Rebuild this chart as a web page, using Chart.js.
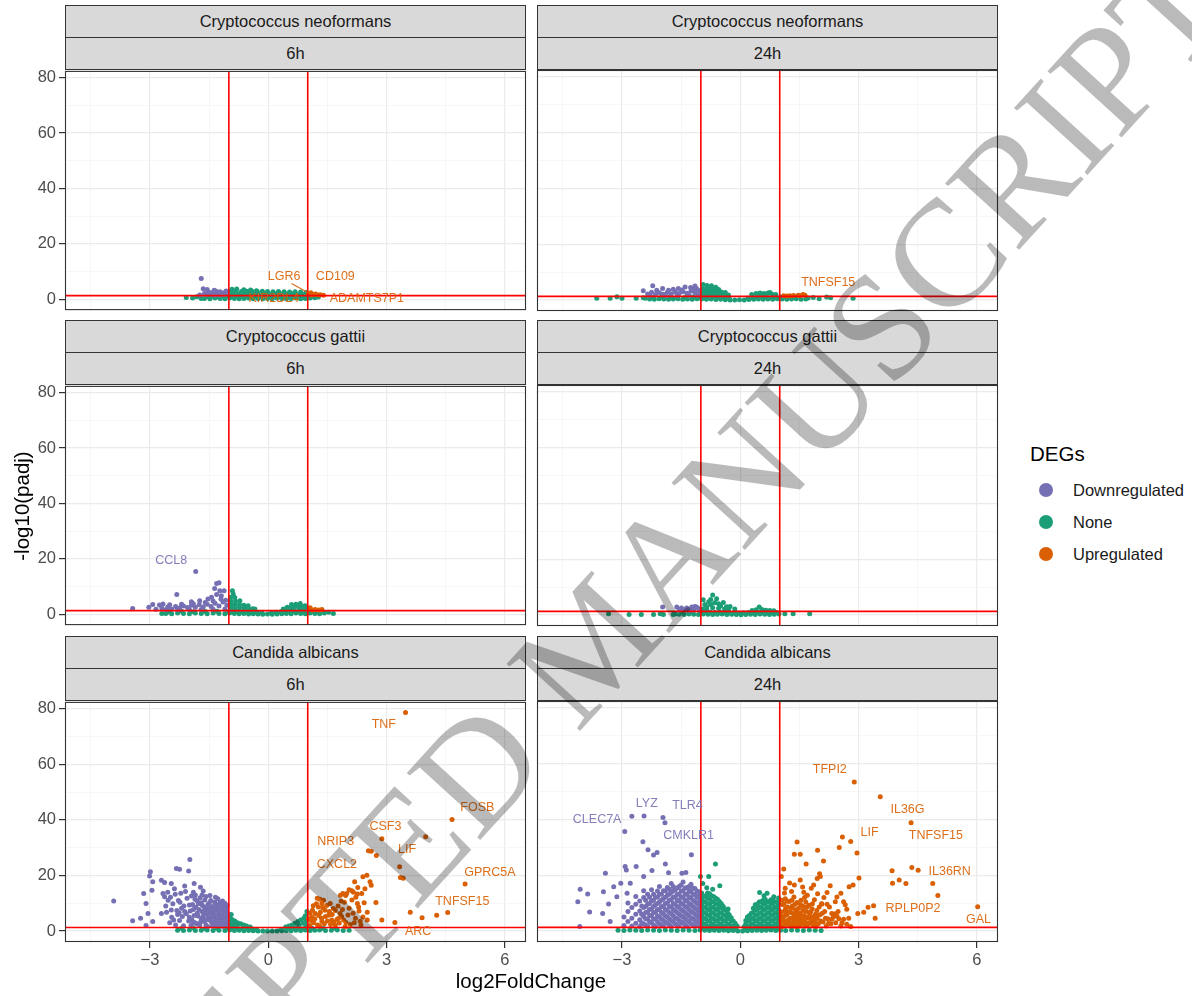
<!DOCTYPE html>
<html>
<head>
<meta charset="utf-8">
<title>DEG volcano plots</title>
<script src="https://cdn.jsdelivr.net/npm/chart.js@4.4.1/dist/chart.umd.min.js"></script>
<style>
  body { margin: 0; background: #fff; }
  #wrap { position: relative; width: 1192px; height: 996px; overflow: hidden; font-family: "Liberation Sans", Arial, sans-serif; }
  .strip { position: absolute; box-sizing: border-box; height: 33px; background: #D9D9D9; border: 1px solid #333; color: #1A1A1A; font-size: 16.5px; text-align: center; line-height: 31px; }
  canvas { position: absolute; }
  .title { position: absolute; color: #000; font-size: 20.5px; white-space: nowrap; line-height: 1; }
  .key { position: absolute; width: 14px; height: 14px; border-radius: 50%; }
  .keytxt { position: absolute; font-size: 16.5px; color: #1A1A1A; line-height: 1; }
  #mark { position: absolute; left: 592px; top: 642px; transform: translate(-50%, -50%) rotate(-47.6deg); font-family: "Liberation Serif", "DejaVu Serif", serif; font-size: 152px; color: rgba(0,0,0,0.27); white-space: nowrap; pointer-events: none; line-height: 1; }
</style>
</head>
<body>
<div id="wrap"></div>
<script>
// axes shared by every facet
const xTicks = [-4.5, -3, -1.5, 0, 1.5, 3, 4.5, 6];
const xLabelled = [-3, 0, 3, 6];
const yTicks = [0, 10, 20, 30, 40, 50, 60, 70, 80];
const yLabelled = [0, 20, 40, 60, 80];
const xRange = [-5.155, 6.535];
const yRange = [-3.93, 82.42];
const fcCut = [-1, 1];
const padjCut = 1.301;

const degNames = ['Downregulated', 'None', 'Upregulated'];
const degColors = ['#7570B3', '#1B9E77', '#D95F02'];
const species = ['Cryptococcus neoformans', 'Cryptococcus gattii', 'Candida albicans'];
const times = ['6h', '24h'];

// Cryptococcus neoformans 6h
const cn6Down = [[-1.70,7.5],[-1.65,3.8],[-1.55,3.5],[-1.37,3.2],[-1.74,1.5],[-1.62,2.1],[-1.52,2.6],[-1.46,1.8],[-1.41,2.5],[-1.32,2.9],[-1.27,2.0],[-1.22,2.7],[-1.18,1.7],[-1.12,2.3],[-1.07,3.0],[-1.04,1.9],[-1.57,1.6],[-1.36,1.5],[-1.24,1.5],[-1.14,1.6],[-1.30,2.4],[-1.48,2.2]];
const cn6None = [[-2.08,0.6],[-1.81,0.9],[-1.92,0.4],[-1.70,0.3],
  [-1.62,0.3],[-1.48,0.2],[-1.35,0.4],[-1.22,0.3],[-1.10,0.2],[-0.98,0.4],[-0.86,0.3],[-0.74,0.2],[-0.62,0.3],[-0.50,0.4],[-0.38,0.2],[-0.26,0.3],[-0.14,0.2],[-0.02,0.3],[0.10,0.2],[0.22,0.4],[0.34,0.3],[0.46,0.2],[0.58,0.3],[0.70,0.4],[0.82,0.2],[0.94,0.3],[1.06,0.4],[1.18,0.5],[1.27,0.8],
  [-1.55,1.0],[-1.42,1.1],[-1.28,1.0],[-1.15,1.2],[-1.02,1.1],[-0.90,1.0],[-0.78,1.2],[-0.66,1.1],[-0.54,1.0],[-0.42,1.2],[-0.30,1.1],[-0.18,1.0],[-0.06,1.2],[0.06,1.1],[0.18,1.0],[0.30,1.2],[0.42,1.1],[0.54,1.0],[0.66,1.2],[0.78,1.1],[0.90,1.0],[1.02,1.1],[1.12,1.0],
  [-0.98,2.0],[-0.86,2.1],[-0.74,1.9],[-0.62,2.0],[-0.50,2.1],[-0.38,1.9],[-0.26,2.0],[-0.14,2.1],[-0.02,1.9],[0.10,2.0],[0.22,2.1],[0.34,1.9],[0.46,2.0],[0.58,2.1],[0.70,1.9],[0.82,2.0],[0.94,2.1],
  [-0.95,2.9],[-0.82,3.0],[-0.68,2.8],[-0.55,2.9],[-0.42,3.0],[-0.28,2.8],[-0.15,2.9],[-0.02,2.8],[0.12,2.7],[0.26,2.8],[0.40,2.7],[0.54,2.6],[0.68,2.7],[0.82,2.6],[0.96,2.4],
  [-0.92,3.6],[-0.80,3.7],[-0.62,3.4],[-0.45,3.3],[-0.30,3.1]];
const cn6Up = [[1.02,2.0],[1.08,2.3],[1.15,1.7],[1.20,1.9],[1.27,1.5],[1.32,1.6],[1.10,1.5],[1.40,1.4]];
const cn6Labels = [['LGR6',0.40,8.2],['CD109',1.70,8.2],['KIR2DL4',0.14,0.3],['ADAMTS7P1',2.50,0.3]];
const cn6Links = [[0.59,5.7,1.06,2.0]];

// Cryptococcus neoformans 24h
const cn24Down = [[-2.46,3.3],[-2.22,5.1],[-2.12,3.5],[-1.97,4.1],[-1.82,3.5],[-1.70,3.9],[-1.57,4.1],[-1.40,4.7],[-1.26,4.5],[-1.15,5.0],[-1.11,4.1],[-2.35,2.2],[-2.25,2.8],[-2.15,2.0],[-2.05,2.6],[-1.95,2.1],[-1.85,2.8],[-1.75,2.2],[-1.65,2.9],[-1.55,2.3],[-1.45,3.0],[-1.35,2.4],[-1.25,3.2],[-1.15,2.6],[-1.05,3.4],[-1.90,1.6],[-1.60,1.6],[-1.30,1.7],[-1.08,1.8],[-2.30,1.6],[-1.48,3.6],[-1.20,3.8]];
const cn24None = [[-3.64,0.6],[-3.30,0.6],[-3.13,1.2],[-3.00,0.6],[-2.64,0.6],[-2.46,0.8],[-2.41,0.6],[1.85,0.9],[2.19,1.1],[2.29,0.8],[2.86,0.6],[2.00,0.5],[1.72,0.7],
  [-2.30,0.4],[-2.18,0.3],[-2.06,0.5],[-1.94,0.4],[-1.82,0.3],[-1.70,0.4],[-1.58,0.5],[-1.46,0.3],[-1.34,0.4],[-1.22,0.3],[-1.10,0.5],[-0.98,0.4],[-0.86,0.3],[-0.74,0.4],[-0.62,0.2],[-0.50,0.3],[-0.38,0.1],[-0.26,0.0],[-0.14,0.0],[-0.02,0.1],[0.10,0.0],[0.22,0.2],[0.34,0.3],[0.46,0.4],[0.58,0.3],[0.70,0.4],[0.82,0.3],[0.94,0.5],[1.06,0.4],[1.18,0.3],[1.30,0.4],[1.42,0.5],[1.54,0.3],[1.66,0.4],
  [-2.20,1.0],[-2.00,1.1],[-1.80,1.0],[-1.60,1.1],[-1.40,1.0],[-1.20,1.1],[-1.00,1.0],[-0.88,1.1],[-0.76,1.0],[-0.64,1.1],[-0.52,0.9],[-0.40,0.8],[-0.28,0.6],[0.20,0.6],[0.32,0.9],[0.44,1.0],[0.56,1.1],[0.68,1.0],[0.80,1.1],[0.92,1.0],[1.04,1.1],[1.16,1.0],[1.28,1.1],[1.40,1.0],
  [-0.98,2.0],[-0.90,2.0],[-0.80,2.0],[-0.70,2.0],[-0.60,2.0],[-0.50,2.0],[-0.40,1.9],[-0.98,3.0],[-0.88,3.0],[-0.78,3.0],[-0.68,3.0],[-0.58,3.0],[-0.48,2.9],[-0.38,2.7],[-0.95,4.0],[-0.85,4.1],[-0.75,4.0],[-0.65,3.9],[-0.55,3.8],[-0.94,5.6],[-0.84,5.2],[-0.73,5.1],[-0.62,4.6],[-0.30,1.8],
  [0.29,2.0],[0.40,2.3],[0.50,2.5],[0.60,2.3],[0.70,2.5],[0.80,2.2],[0.90,2.0],[0.75,2.7],[0.45,1.7],[0.65,1.7],[0.85,1.6]];
const cn24Up = [[1.26,1.5],[1.47,1.7],[1.59,2.0],[1.64,1.7],[1.35,1.6],[1.10,1.5],[1.52,1.5],[1.18,1.4]];
const cn24Labels = [['TNFSF15',2.23,6.4]];

// Cryptococcus gattii 6h
const cg6Down = [[-1.84,15.4],[-2.32,7.1],[-3.44,2.1],[-3.03,2.5],[-2.93,3.5],[-2.76,3.3],[-2.67,3.7],[-1.31,11.1],[-1.25,11.4],[-1.36,9.3],[-1.23,8.5],[-1.12,8.5],[-1.31,7.1],[-1.19,6.7],[-1.53,5.5],[-1.44,6.1],[-1.74,4.9],[-1.95,4.5],
  [-2.85,1.8],[-2.70,2.2],[-2.55,2.6],[-2.45,1.9],[-2.35,2.8],[-2.25,2.2],[-2.15,3.0],[-2.05,2.4],[-1.95,3.2],[-1.85,2.5],[-1.75,3.4],[-1.65,2.6],[-1.55,3.6],[-1.45,2.8],[-1.35,4.0],[-1.25,3.0],[-1.15,4.4],[-1.05,3.2],[-2.50,3.4],[-2.20,3.6],[-1.90,3.8],[-1.60,4.2],[-1.40,4.8],[-1.20,5.5],[-1.08,5.0],[-2.60,1.6],[-2.30,1.6],[-2.00,1.7],[-1.70,1.7],[-1.40,1.8],[-1.10,1.9]];
const cg6None = [[1.65,0.3],[1.53,0.7],[-2.70,0.3],[-2.55,0.8],
  [-2.60,0.3],[-2.45,0.2],[-2.30,0.4],[-2.15,0.3],[-2.00,0.2],[-1.85,0.4],[-1.70,0.3],[-1.55,0.2],[-1.40,0.4],[-1.25,0.3],[-1.10,0.2],[-0.98,0.4],[-0.86,0.3],[-0.74,0.2],[-0.62,0.3],[-0.50,0.1],[-0.38,0.2],[-0.26,0.1],[-0.14,0.0],[-0.02,0.1],[0.10,0.0],[0.22,0.1],[0.34,0.2],[0.46,0.3],[0.58,0.2],[0.70,0.4],[0.82,0.3],[0.94,0.2],[1.06,0.4],[1.18,0.3],[1.30,0.2],[1.42,0.4],
  [-2.50,1.0],[-2.20,1.1],[-1.90,0.9],[-1.60,1.0],[-1.30,1.1],[-1.00,1.0],[-0.88,1.1],[-0.76,1.0],[-0.64,0.9],[-0.52,1.0],[-0.40,0.8],[-0.28,0.6],[-0.16,0.5],[0.08,0.5],[0.20,0.7],[0.32,0.9],[0.44,1.0],[0.56,1.1],[0.68,1.0],[0.80,1.1],[0.92,1.0],[1.04,0.9],[1.16,1.0],[1.28,0.9],
  [-0.91,8.5],[-0.89,7.3],[-0.96,6.0],[-0.85,6.0],[-0.95,4.8],[-0.83,4.7],[-0.72,4.9],[-0.95,3.6],[-0.84,3.5],[-0.73,3.4],[-0.62,3.2],[-0.51,3.1],[-0.95,2.4],[-0.84,2.3],[-0.73,2.3],[-0.62,2.2],[-0.51,2.1],[-0.40,2.0],[-0.34,1.9],
  [0.38,1.9],[0.48,2.5],[0.59,3.5],[0.70,3.6],[0.81,3.9],[0.93,3.1],[0.55,2.2],[0.65,2.6],[0.75,2.8],[0.86,2.7],[0.96,2.2],[0.45,1.8],[0.62,1.8],[0.78,1.9],[0.90,1.8]];
const cg6Up = [[1.06,2.3],[1.19,1.7],[1.36,1.7],[1.12,1.5],[1.28,1.5]];
const cg6Labels = [['CCL8',-2.46,19.5]];

// Cryptococcus gattii 24h
const cg24Down = [[-1.97,2.9],[-1.61,2.9],[-1.49,2.5],[-1.36,2.5],[-1.23,2.9],[-1.15,3.1],[-1.11,2.9],[-1.55,1.8],[-1.42,1.9],[-1.30,2.0],[-1.18,2.1],[-1.06,2.3],[-1.26,1.6]];
const cg24None = [[-3.34,0.5],[-2.82,0.2],[-2.51,0.2],[-2.20,0.2],[-2.03,0.5],[-1.95,0.2],[-1.70,0.2],[-1.63,0.5],[1.13,0.5],[1.34,0.5],[1.76,0.5],
  [-1.55,0.3],[-1.42,0.2],[-1.30,0.4],[-1.18,0.3],[-1.06,0.2],[-0.94,0.4],[-0.82,0.3],[-0.70,0.2],[-0.58,0.3],[-0.46,0.4],[-0.34,0.2],[-0.22,0.3],[-0.10,0.2],[0.02,0.1],[0.14,0.2],[0.26,0.3],[0.38,0.2],[0.50,0.4],[0.62,0.3],[0.74,0.2],[0.86,0.3],[0.98,0.4],
  [-1.50,1.0],[-1.25,0.9],[-1.00,1.0],[-0.88,1.1],[-0.76,1.0],[-0.64,0.9],[-0.52,1.1],[-0.40,1.0],[-0.28,0.9],[-0.16,0.8],[-0.04,0.7],[0.08,0.8],[0.20,0.9],[0.32,1.0],[0.44,1.1],[0.56,1.0],[0.68,0.9],[0.80,1.0],[0.92,0.9],
  [-0.70,7.2],[-0.94,5.5],[-0.60,5.8],[-0.43,4.5],[-0.26,3.1],[-0.14,2.2],[-0.95,2.2],[-0.85,3.0],[-0.75,3.8],[-0.65,4.4],[-0.55,4.0],[-0.80,4.8],[-0.90,3.8],[-0.70,2.6],[-0.55,2.4],[-0.40,2.2],[-0.30,1.9],[-0.85,2.0],[-0.75,5.6],[-0.50,3.2],[-0.35,3.0],
  [0.48,2.9],[0.40,1.9],[0.55,2.0],[0.30,1.6],[0.65,1.7],[0.75,1.6],[0.85,1.5]];
const cg24Up = [];

// Candida albicans 6h
const ca6Down = [[-1.99,25.7],[-2.33,22.5],[-2.25,22.2],[-2.02,21.6],[-2.99,21.3],[-3.01,19.8],[-2.93,17.7],[-2.71,18.3],[-2.63,17.5],[-2.46,17.1],[-1.88,17.1],[-3.16,13.5],[-2.95,14.7],[-2.67,13.5],[-2.63,12.3],[-2.54,11.1],[-3.92,10.8],[-3.10,9.9],[-3.05,6.3],[-2.71,6.3],[-2.93,3.4],[-3.44,3.7],[-3.24,4.6],[-3.10,2.0],
  [-2.55,14.0],[-2.48,12.2],[-2.42,9.8],[-2.38,15.2],[-2.32,7.4],[-2.28,11.0],[-2.22,13.6],[-2.18,5.2],[-2.14,9.0],[-2.10,14.2],[-2.06,11.8],[-2.02,3.6],[-1.98,7.2],[-1.95,12.6],[-1.92,9.6],[-1.88,5.6],[-1.85,13.0],[-1.82,2.6],[-1.80,10.8],[-1.76,7.8],[-1.73,12.0],[-1.70,4.4],[-1.67,9.2],[-1.64,6.2],[-1.61,11.2],[-1.58,2.2],[-1.55,8.2],[-1.52,4.8],[-1.50,10.0],[-1.47,6.6],[-1.44,3.2],[-1.41,8.8],[-1.38,5.2],[-1.35,2.0],[-1.32,7.4],[-1.29,4.0],[-1.26,9.0],[-1.23,6.0],[-1.20,2.8],[-1.17,7.8],[-1.14,4.6],[-1.11,2.0],[-1.08,6.4],[-1.05,3.6],[-1.03,5.2],
  [-2.58,6.8],[-2.50,3.0],[-2.45,5.0],[-2.35,2.2],[-2.25,3.8],[-2.15,1.9],[-2.08,6.2],[-1.96,2.0],[-1.90,3.2],[-1.78,5.4],[-1.74,2.0],[-1.62,3.4],[-1.58,12.4],[-1.54,1.6],[-1.46,11.0],[-1.42,1.8],[-1.36,10.4],[-1.30,2.6],[-1.24,3.2],[-1.18,5.4],[-1.12,9.2],[-1.06,8.0],[-1.15,1.6],[-2.40,4.0],[-2.30,6.0],[-2.20,8.2],[-2.00,9.4],[-1.86,11.4],[-1.68,13.0],[-1.72,15.8],[-1.65,14.4],[-1.60,7.2],[-1.48,12.8],[-1.40,6.8],[-1.34,12.2],[-1.28,11.6],[-1.22,10.4],[-1.16,10.8],[-1.10,10.0],[-1.04,9.2],[-1.30,8.4],[-1.50,7.6],[-1.70,10.2],[-1.90,14.0],[-2.12,16.2],[-2.24,10.4],[-2.36,13.2],[-2.60,9.0],[-2.46,7.6],
  [-2.00,5.0],[-1.94,4.2],[-1.90,7.8],[-1.86,3.0],[-1.80,6.4],[-1.77,9.8],[-1.72,3.2],[-1.68,7.0],[-1.66,5.0],[-1.62,8.6],[-1.60,3.8],[-1.56,6.0],[-1.53,9.6],[-1.49,4.0],[-1.46,8.2],[-1.43,5.8],[-1.39,3.0],[-1.37,7.6],[-1.33,5.6],[-1.31,9.6],[-1.27,3.6],[-1.25,7.2],[-1.21,4.8],[-1.19,8.8],[-1.16,3.0],[-1.13,6.8],[-1.10,4.2],[-1.07,7.4],[-1.05,2.4],[-1.02,6.2],[-1.09,5.6],[-1.13,3.6],[-1.21,2.2],[-1.27,5.6],[-1.33,4.0],[-1.44,4.6],[-1.56,4.2],[-1.84,8.6],[-2.12,7.0],[-2.26,6.6]];
const ca6None = [[-2.30,0.3],[-2.15,0.2],[-2.00,0.4],[-1.85,0.2],[-1.70,0.3],[-1.55,0.4],[-1.40,0.2],[-1.25,0.3],[-1.10,0.2],[-0.98,0.4],[-0.86,0.2],[-0.74,0.3],[-0.62,0.1],[-0.50,0.2],[-0.38,0.1],[-0.26,0.0],[-0.14,0.0],[-0.02,0.0],[0.10,0.0],[0.22,0.0],[0.34,0.1],[0.46,0.2],[0.58,0.1],[0.70,0.3],[0.82,0.2],[0.94,0.4],[1.06,0.2],[1.18,0.3],[1.30,0.4],[1.45,0.2],[1.60,0.3],[1.75,0.4],[1.90,0.2],[2.05,0.3],
  [-2.20,1.0],[-1.90,1.1],[-1.60,0.9],[-1.30,1.0],[-1.02,1.1],[-0.90,1.0],[-0.78,1.2],[-0.66,0.9],[-0.54,1.0],[-0.42,0.8],[-0.30,0.7],[0.32,0.7],[0.44,0.9],[0.56,1.0],[0.68,1.1],[0.80,0.9],[0.92,1.0],[1.10,1.1],[1.40,0.9],[1.70,1.0],
  [-0.98,5.0],[-0.92,4.2],[-0.85,3.6],[-0.78,3.0],[-0.70,2.6],[-0.62,2.2],[-0.55,1.8],[-0.96,3.2],[-0.88,2.4],[-0.98,2.0],[-0.80,1.8],[-0.94,6.0],[-0.46,1.5],
  [0.94,5.5],[0.90,4.6],[0.82,4.0],[0.75,3.4],[0.68,2.8],[0.60,2.2],[0.52,1.8],[0.96,3.6],[0.88,2.8],[0.96,2.0],[0.78,1.9],[0.98,7.0],[0.44,1.5]];
const ca6Up = [[3.48,78.6],[4.66,40.1],[3.99,33.9],[2.88,33.2],[2.54,28.9],[2.61,28.7],[2.74,27.2],[3.33,23.1],[3.35,19.3],[3.42,19.0],[4.99,16.9],[2.50,20.1],[2.40,19.5],[2.58,17.7],[2.61,16.5],[2.19,17.7],[2.27,15.7],[2.12,14.5],[1.99,13.5],[1.89,13.5],[1.83,12.9],[2.37,13.5],[2.26,13.3],[2.73,10.3],[2.43,10.2],[2.26,9.9],[2.29,8.7],[2.51,6.8],[2.40,5.1],[2.51,4.0],[2.33,3.5],[2.21,4.6],[2.88,4.0],[3.21,3.1],[3.60,6.8],[3.90,4.8],[4.27,5.7],[4.55,6.7],
  [1.31,11.4],[1.36,9.9],[1.27,8.7],[1.44,7.5],[1.19,6.3],[1.10,5.1],[1.53,5.7],[1.61,4.0],[1.36,3.4],[1.15,3.0],[1.78,4.6],[1.70,2.2],[1.95,1.6],[1.91,4.0],[1.82,6.3],[1.65,8.1],[1.57,9.9],[1.40,11.1],
  [1.05,2.0],[1.08,3.8],[1.12,7.5],[1.18,4.4],[1.22,9.8],[1.25,2.2],[1.28,5.6],[1.32,6.8],[1.35,4.6],[1.38,8.4],[1.42,2.6],[1.45,5.2],[1.48,9.2],[1.50,3.6],[1.55,7.0],[1.58,2.4],[1.62,6.0],[1.66,3.2],[1.70,7.4],[1.74,4.2],[1.77,9.0],[1.80,2.9],[1.86,5.2],[1.88,7.8],[1.93,10.4],[1.97,3.1],[2.02,5.8],[2.05,8.2],[2.08,2.4],[2.12,11.2],[2.15,6.4],[2.18,3.0],[2.22,12.2],[2.30,7.2],[2.35,2.2],[1.02,4.4],[1.06,6.4],[1.14,9.1],[1.24,11.8],[1.30,1.8],[1.96,12.8],[2.05,14.9],[2.16,14.0],[1.85,10.8],[2.45,15.2]];
const ca6Labels = [['TNF',2.93,74.4],['FOSB',5.30,44.3],['CSF3',2.97,37.5],['NRIP3',1.71,32.1],['LIF',3.52,29.3],['CXCL2',1.74,24.0],['GPRC5A',5.62,21.2],['TNFSF15',4.92,10.5],['ARC',3.80,0.0]];

// Candida albicans 24h
const ca24Down = [[-2.93,35.7],[-2.75,41.1],[-2.44,41.2],[-1.96,40.7],[-1.91,38.8],[-2.47,32.0],[-2.34,29.1],[-2.20,27.2],[-2.11,28.1],[-1.24,27.3],[-2.92,23.1],[-2.89,21.9],[-2.64,23.1],[-1.90,24.0],[-2.45,19.5],[-2.24,21.7],[-1.82,20.9],[-1.48,20.7],[-1.38,21.0],
  [-3.42,20.7],[-4.06,15.0],[-3.87,13.3],[-4.12,10.5],[-3.82,6.8],[-4.07,1.6],[-3.47,14.1],[-3.34,9.7],[-3.49,6.3],[-3.30,3.4],[-3.21,15.9],[-3.13,12.3],[-3.03,17.1],[-2.87,13.5],[-2.79,17.1],
  [-2.95,2.0],[-2.95,5.0],[-2.85,3.4],[-2.85,7.0],[-2.85,10.0],[-2.75,1.8],[-2.75,4.6],[-2.75,8.4],[-2.65,2.8],[-2.65,6.0],[-2.65,9.6],[-2.65,12.4],[-2.55,1.6],[-2.55,4.0],[-2.55,7.2],[-2.55,10.8],
  [-2.45,2.6],[-2.45,5.2],[-2.45,8.4],[-2.45,12.0],[-2.45,14.4],[-2.35,1.8],[-2.35,4.2],[-2.35,6.8],[-2.35,9.6],[-2.35,13.2],[-2.25,3.0],[-2.25,5.6],[-2.25,8.0],[-2.25,10.8],[-2.25,14.8],[-2.15,1.6],[-2.15,4.2],[-2.15,6.8],[-2.15,9.4],[-2.15,12.2],
  [-2.05,2.6],[-2.05,5.0],[-2.05,7.6],[-2.05,10.4],[-2.05,13.2],[-2.05,16.0],[-1.95,1.8],[-1.95,3.8],[-1.95,6.2],[-1.95,8.8],[-1.95,11.6],[-1.95,14.4],[-1.85,2.8],[-1.85,5.0],[-1.85,7.4],[-1.85,10.0],[-1.85,12.8],[-1.85,15.6],
  [-1.75,1.6],[-1.75,3.8],[-1.75,6.2],[-1.75,8.6],[-1.75,11.2],[-1.75,13.8],[-1.75,17.0],[-1.65,2.6],[-1.65,4.8],[-1.65,7.2],[-1.65,9.6],[-1.65,12.2],[-1.65,14.8],[-1.55,1.8],[-1.55,3.8],[-1.55,6.0],[-1.55,8.4],[-1.55,10.8],[-1.55,13.2],[-1.55,16.0],
  [-1.45,2.8],[-1.45,5.0],[-1.45,7.2],[-1.45,9.6],[-1.45,12.0],[-1.45,14.4],[-1.45,17.6],[-1.35,1.6],[-1.35,3.8],[-1.35,6.0],[-1.35,8.4],[-1.35,10.8],[-1.35,13.2],[-1.35,15.6],[-1.25,2.6],[-1.25,4.8],[-1.25,7.0],[-1.25,9.4],[-1.25,11.8],[-1.25,14.2],[-1.25,16.8],
  [-1.15,1.8],[-1.15,3.8],[-1.15,6.0],[-1.15,8.2],[-1.15,10.6],[-1.15,13.0],[-1.15,15.2],[-1.06,2.8],[-1.06,5.0],[-1.06,7.2],[-1.06,9.6],[-1.06,12.0],[-1.06,14.2],
  [-2.50,3.0],[-2.50,6.0],[-2.50,9.0],[-2.40,2.2],[-2.40,4.4],[-2.40,6.6],[-2.40,8.8],[-2.40,11.0],[-2.30,3.3],[-2.30,5.5],[-2.30,7.7],[-2.30,9.9],[-2.30,12.1],
  [-2.20,2.2],[-2.20,4.4],[-2.20,6.6],[-2.20,8.8],[-2.20,11.0],[-2.20,13.2],[-2.10,3.3],[-2.10,5.5],[-2.10,7.7],[-2.10,9.9],[-2.10,12.1],[-2.10,14.3],[-2.00,2.2],[-2.00,4.4],[-2.00,6.6],[-2.00,8.8],[-2.00,11.0],[-2.00,13.2],
  [-1.90,3.3],[-1.90,5.5],[-1.90,7.7],[-1.90,9.9],[-1.90,12.1],[-1.90,14.3],[-1.80,2.2],[-1.80,4.4],[-1.80,6.6],[-1.80,8.8],[-1.80,11.0],[-1.80,13.2],[-1.80,15.0],[-1.70,3.3],[-1.70,5.5],[-1.70,7.7],[-1.70,9.9],[-1.70,12.1],[-1.70,14.3],[-1.70,16.0],
  [-1.60,2.2],[-1.60,4.4],[-1.60,6.6],[-1.60,8.8],[-1.60,11.0],[-1.60,13.2],[-1.60,15.4],[-1.50,3.3],[-1.50,5.5],[-1.50,7.7],[-1.50,9.9],[-1.50,12.1],[-1.50,14.3],[-1.50,16.5],[-1.40,2.2],[-1.40,4.4],[-1.40,6.6],[-1.40,8.8],[-1.40,11.0],[-1.40,13.2],[-1.40,15.4],
  [-1.30,3.3],[-1.30,5.5],[-1.30,7.7],[-1.30,9.9],[-1.30,12.1],[-1.30,14.3],[-1.30,16.0],[-1.20,2.2],[-1.20,4.4],[-1.20,6.6],[-1.20,8.8],[-1.20,11.0],[-1.20,13.2],[-1.20,15.4],[-1.10,3.3],[-1.10,5.5],[-1.10,7.7],[-1.10,9.9],[-1.10,12.1],[-1.10,14.3],
  [-1.03,1.8],[-1.03,4.0],[-1.03,6.2],[-1.03,8.4],[-1.03,10.6],[-1.03,13.0]];
const ca24None = [[-3.10,0.3],[-2.95,0.2],[-2.80,0.4],[-2.65,0.3],[-2.50,0.2],[-2.35,0.4],[-2.20,0.3],[-2.05,0.2],[-1.90,0.4],[-1.75,0.3],[-1.60,0.2],[-1.45,0.4],[-1.30,0.3],[-1.15,0.2],[-1.02,0.4],[-0.90,0.3],[-0.78,0.2],[-0.66,0.3],[-0.54,0.2],[-0.42,0.3],[-0.30,0.1],[-0.18,0.2],[-0.06,0.0],[0.06,0.0],[0.18,0.1],[0.30,0.2],[0.42,0.3],[0.54,0.2],[0.66,0.3],[0.78,0.4],[0.90,0.2],[1.02,0.3],[1.15,0.2],[1.30,0.4],[1.45,0.3],[1.60,0.2],[1.75,0.4],[1.90,0.3],[2.05,0.2],
  [-0.96,1.0],[-0.84,1.0],[-0.72,1.0],[-0.60,1.0],[-0.48,1.0],[-0.36,0.9],[-0.24,0.8],[-0.12,0.6],[0.12,0.6],[0.24,0.8],[0.36,0.9],[0.48,1.0],[0.60,1.0],[0.72,1.0],[0.84,1.0],[0.96,1.0],
  [-0.98,1.6],[-0.98,3.6],[-0.98,5.6],[-0.98,7.6],[-0.98,9.6],[-0.98,11.6],[-0.98,13.6],[-0.88,2.4],[-0.88,4.4],[-0.88,6.4],[-0.88,8.4],[-0.88,10.4],[-0.88,12.4],[-0.78,1.6],[-0.78,3.6],[-0.78,5.6],[-0.78,7.6],[-0.78,9.6],[-0.78,11.6],[-0.78,13.4],
  [-0.68,2.4],[-0.68,4.4],[-0.68,6.4],[-0.68,8.4],[-0.68,10.4],[-0.68,12.4],[-0.58,1.6],[-0.58,3.6],[-0.58,5.6],[-0.58,7.6],[-0.58,9.6],[-0.58,11.4],[-0.48,2.4],[-0.48,4.4],[-0.48,6.4],[-0.48,8.4],[-0.48,9.8],[-0.38,1.6],[-0.38,3.6],[-0.38,5.6],[-0.38,7.6],[-0.28,2.4],[-0.28,4.4],[-0.28,5.8],[-0.18,1.6],[-0.18,3.6],[-0.08,1.8],
  [-0.93,2.6],[-0.93,4.6],[-0.93,6.6],[-0.93,8.6],[-0.93,10.6],[-0.93,12.6],[-0.83,1.8],[-0.83,3.8],[-0.83,5.8],[-0.83,7.8],[-0.83,9.8],[-0.83,11.8],[-0.83,13.6],[-0.73,2.6],[-0.73,4.6],[-0.73,6.6],[-0.73,8.6],[-0.73,10.6],[-0.73,12.6],
  [-0.63,1.8],[-0.63,3.8],[-0.63,5.8],[-0.63,7.8],[-0.63,9.8],[-0.63,11.8],[-0.53,2.6],[-0.53,4.6],[-0.53,6.6],[-0.53,8.6],[-0.53,10.6],[-0.43,1.8],[-0.43,3.8],[-0.43,5.8],[-0.43,7.8],[-0.43,8.8],[-0.33,2.6],[-0.33,4.6],[-0.33,6.6],[-0.23,1.8],[-0.23,3.8],[-0.23,4.8],[-0.13,1.6],[-0.13,2.8],
  [-0.63,24.0],[-0.80,19.5],[-1.01,19.5],[-0.52,16.2],[-0.95,17.0],[-0.85,15.5],[-0.70,15.0],[-0.31,7.9],
  [0.10,1.6],[0.18,1.6],[0.18,3.6],[0.18,5.0],[0.28,2.4],[0.28,4.4],[0.28,6.4],[0.38,1.6],[0.38,3.6],[0.38,5.6],[0.38,7.6],[0.38,9.4],[0.48,2.4],[0.48,4.4],[0.48,6.4],[0.48,8.4],[0.48,10.4],[0.58,1.6],[0.58,3.6],[0.58,5.6],[0.58,7.6],[0.58,9.6],[0.58,11.0],
  [0.68,2.4],[0.68,4.4],[0.68,6.4],[0.68,8.4],[0.68,10.4],[0.78,1.6],[0.78,3.6],[0.78,5.6],[0.78,7.6],[0.78,9.6],[0.78,11.2],[0.88,2.4],[0.88,4.4],[0.88,6.4],[0.88,8.4],[0.88,10.4],[0.97,1.6],[0.97,3.6],[0.97,5.6],[0.97,7.6],[0.97,9.6],
  [0.14,2.6],[0.14,3.8],[0.23,1.8],[0.23,3.8],[0.23,5.6],[0.33,2.6],[0.33,4.6],[0.33,6.6],[0.33,8.2],[0.43,1.8],[0.43,3.8],[0.43,5.8],[0.43,7.8],[0.43,9.6],[0.53,2.6],[0.53,4.6],[0.53,6.6],[0.53,8.6],[0.53,10.6],
  [0.63,1.8],[0.63,3.8],[0.63,5.8],[0.63,7.8],[0.63,9.8],[0.63,11.4],[0.73,2.6],[0.73,4.6],[0.73,6.6],[0.73,8.6],[0.73,10.6],[0.83,1.8],[0.83,3.8],[0.83,5.8],[0.83,7.8],[0.83,9.8],[0.83,11.0],[0.93,2.6],[0.93,4.6],[0.93,6.6],[0.93,8.6],[0.93,10.4],
  [0.49,13.8],[0.68,13.5],[0.85,12.3],[0.97,11.8],[0.60,12.6]];
const ca24Up = [[2.89,53.4],[3.55,48.1],[4.33,38.8],[4.35,22.8],[4.51,21.8],[3.85,21.6],[4.03,18.3],[3.86,17.1],[4.20,17.0],[4.88,17.0],[5.01,12.7],[6.02,8.7],[3.38,9.1],[3.24,8.5],[3.13,6.7],[2.98,6.3],[3.42,4.6],[2.59,33.7],[2.80,32.1],[2.51,29.9],[2.96,28.0],[3.01,19.0],[2.86,16.5],[2.76,15.9],[1.44,31.9],[1.37,27.5],[1.52,27.5],[1.96,28.9],[2.11,25.1],[1.67,24.0],[2.01,20.5],[2.03,19.5],
  [1.10,22.2],[1.04,19.5],[1.52,18.3],[1.86,16.5],[1.80,15.3],[1.14,15.3],[1.37,16.5],[1.61,13.9],[2.28,16.2],[2.20,13.8],[2.55,13.5],[2.62,10.5],[2.41,10.5],[2.07,9.7],[2.70,7.8],[2.45,5.4],[2.75,4.6],[2.32,6.3],
  [1.04,2.0],[1.06,5.2],[1.08,9.4],[1.10,3.4],[1.12,7.2],[1.14,11.6],[1.16,2.4],[1.18,5.8],[1.20,8.6],[1.22,4.0],[1.24,10.6],[1.26,1.8],[1.28,6.6],[1.30,3.0],[1.32,9.0],[1.34,4.8],[1.36,12.2],[1.38,2.2],[1.40,7.6],[1.42,5.4],[1.44,10.2],[1.46,3.6],[1.48,8.2],[1.50,1.8],[1.52,6.2],[1.54,11.0],[1.56,4.2],[1.58,2.6],[1.60,8.8],[1.62,5.6],[1.64,3.2],[1.66,10.4],[1.68,7.0],[1.70,2.0],[1.72,4.6],[1.74,9.2],[1.76,6.4],[1.78,3.0],[1.82,8.0],[1.84,2.2],[1.86,5.2],[1.88,11.2],[1.90,3.8],[1.94,7.4],[1.98,2.6],[2.02,5.8],[2.06,9.8],[2.10,3.2],[2.14,7.0],[2.18,1.8],[2.22,4.4],[2.26,8.6],[2.30,2.6],[2.36,5.0],[2.42,3.0],[2.48,7.0],[2.55,1.8],[2.62,4.2],[2.70,2.4],[2.80,1.6],
  [1.12,13.6],[1.30,14.2],[1.58,15.8],[1.70,12.8],[1.96,13.4],[2.12,12.0],[1.25,17.2],[1.95,18.8],[2.45,12.2],[2.66,9.4],[1.05,11.0],[1.20,3.0],[1.45,2.2],[1.65,1.8],[1.92,1.6],
  [1.03,3.6],[1.03,6.8],[1.07,1.6],[1.09,4.4],[1.11,9.8],[1.13,5.6],[1.15,8.0],[1.17,3.2],[1.19,10.8],[1.21,6.8],[1.23,2.6],[1.27,4.6],[1.29,8.2],[1.31,11.0],[1.33,2.0],[1.35,6.2],[1.37,3.8],[1.39,9.6],[1.41,1.6],[1.43,7.0],[1.47,4.8],[1.49,6.4],[1.51,2.8],[1.53,9.4],[1.57,5.0],[1.59,7.4],[1.61,3.0],[1.63,12.0],[1.67,4.8],[1.69,8.6],[1.73,2.8],[1.75,5.4],[1.79,7.0],[1.81,4.0],[1.83,9.8],[1.87,2.8],[1.91,6.0],[1.95,4.6],[2.00,8.6],[2.04,3.6],[2.08,6.4],[2.16,4.6],[2.20,9.6],[2.24,2.8],[2.32,4.2],[2.40,6.2],[2.50,4.4],[2.58,3.0]];
const ca24Labels = [['TFPI2',2.27,57.8,2],['IL36G',4.24,43.7,2],['LIF',3.28,35.3,2],['TNFSF15',4.96,34.1,2],['IL36RN',5.31,21.3,2],['RPLP0P2',4.38,7.9,2],['GAL',6.04,4.0,2],['LYZ',-2.37,45.5,0],['TLR4',-1.34,44.9,0],['CLEC7A',-3.63,40.1,0],['CMKLR1',-1.31,34.1,0]];

// facet layout
const colLeft = [65, 537];
const rowTop = [70, 385, 701];
const plotW = 461, plotH = 241;

const panels = [
  { row: 0, col: 0, down: cn6Down, none: cn6None, up: cn6Up, labels: cn6Labels, links: cn6Links },
  { row: 0, col: 1, down: cn24Down, none: cn24None, up: cn24Up, labels: cn24Labels, links: [] },
  { row: 1, col: 0, down: cg6Down, none: cg6None, up: cg6Up, labels: cg6Labels, links: [] },
  { row: 1, col: 1, down: cg24Down, none: cg24None, up: cg24Up, labels: [], links: [] },
  { row: 2, col: 0, down: ca6Down, none: ca6None, up: ca6Up, labels: ca6Labels, links: [] },
  { row: 2, col: 1, down: ca24Down, none: ca24None, up: ca24Up, labels: ca24Labels, links: [] }
];

const wrap = document.getElementById('wrap');
const pts = arr => arr.map(([x, y]) => ({ x, y }));
const fontFam = '"Liberation Sans", Arial, sans-serif';

function addDiv(cls, text, css) {
  const d = document.createElement('div');
  d.className = cls;
  if (text) d.textContent = text;
  Object.assign(d.style, css);
  wrap.appendChild(d);
  return d;
}

// border + gene labels drawn over the points
const decor = {
  id: 'decor',
  afterDatasetsDraw(chart, args, opts) {
    const ctx = chart.ctx, xs = chart.scales.x, ys = chart.scales.y, a = chart.chartArea;
    ctx.save();
    ctx.beginPath();
    ctx.rect(a.left, a.top, a.right - a.left, a.bottom - a.top);
    ctx.clip();
    ctx.globalAlpha = 0.9;
    opts.links.forEach(([x1, y1, x2, y2]) => {
      ctx.strokeStyle = degColors[2];
      ctx.lineWidth = 1.2;
      ctx.beginPath();
      ctx.moveTo(xs.getPixelForValue(x1), ys.getPixelForValue(y1));
      ctx.lineTo(xs.getPixelForValue(x2), ys.getPixelForValue(y2));
      ctx.stroke();
    });
    ctx.font = '12.5px ' + fontFam;
    ctx.textAlign = 'center';
    ctx.textBaseline = 'middle';
    opts.labels.forEach(([t, x, y, k]) => {
      ctx.fillStyle = degColors[k === undefined ? (x < 0 ? 0 : 2) : k];
      ctx.fillText(t, xs.getPixelForValue(x), ys.getPixelForValue(y));
    });
    ctx.restore();
  },
  afterDraw(chart) {
    const ctx = chart.ctx, a = chart.chartArea;
    ctx.save();
    ctx.strokeStyle = '#333333';
    ctx.lineWidth = 1.1;
    ctx.strokeRect(a.left + 0.5, a.top + 0.5, a.right - a.left - 1, a.bottom - a.top - 1);
    ctx.restore();
  }
};

panels.forEach(p => {
  const padL = p.col === 0 ? 65 : 6, padR = 6, padT = 12, padB = p.row === 2 ? 40 : 12;
  const left = colLeft[p.col], top = rowTop[p.row];

  // facet strips
  addDiv('strip', species[p.row], { left: left + 'px', top: (top - 65) + 'px', width: plotW + 'px' });
  addDiv('strip', times[p.col], { left: left + 'px', top: (top - 33) + 'px', width: plotW + 'px' });

  const cv = document.createElement('canvas');
  cv.width = plotW + padL + padR;
  cv.height = plotH + padT + padB;
  cv.style.left = (left - padL) + 'px';
  cv.style.top = (top - padT) + 'px';
  wrap.appendChild(cv);

  const showX = p.row === 2, showY = p.col === 0;
  const ref = (data) => ({ type: 'line', data, borderColor: '#FF0000', borderWidth: 1.6, pointRadius: 0, fill: false, order: 0 });
  const dots = (data, i) => ({ type: 'scatter', label: degNames[i], data: pts(data), backgroundColor: degColors[i], pointRadius: 2.5, pointHoverRadius: 2.5, pointBorderWidth: 0, order: i === 1 ? 2 : 1 });

  new Chart(cv, {
    type: 'scatter',
    data: {
      datasets: [
        ref([{ x: fcCut[0], y: yRange[0] }, { x: fcCut[0], y: yRange[1] }]),
        ref([{ x: fcCut[1], y: yRange[0] }, { x: fcCut[1], y: yRange[1] }]),
        ref([{ x: xRange[0], y: padjCut }, { x: xRange[1], y: padjCut }]),
        dots(p.down, 0),
        dots(p.up, 2),
        dots(p.none, 1)
      ]
    },
    options: {
      responsive: false,
      animation: false,
      events: [],
      layout: { padding: { top: padT, right: padR, left: 0, bottom: 0 } },
      plugins: { legend: { display: false }, tooltip: { enabled: false }, decor: { labels: p.labels, links: p.links } },
      scales: {
        x: {
          type: 'linear', min: xRange[0], max: xRange[1],
          afterBuildTicks: s => { s.ticks = xTicks.map(v => ({ value: v })); },
          afterFit: s => { s.height = padB; },
          border: { display: false },
          grid: {
            color: c => xLabelled.includes(c.tick.value) ? '#EBEBEB' : '#F4F4F4',
            lineWidth: c => xLabelled.includes(c.tick.value) ? 1.2 : 0.7,
            drawTicks: showX, tickLength: 6,
            tickColor: c => xLabelled.includes(c.tick.value) ? '#333333' : 'rgba(0,0,0,0)'
          },
          ticks: {
            display: showX, autoSkip: false, maxRotation: 0, padding: 3,
            color: '#4D4D4D', font: { family: fontFam, size: 16.5 },
            callback: v => xLabelled.includes(v) ? String(v).replace('-', '\u2212') : ''
          }
        },
        y: {
          type: 'linear', min: yRange[0], max: yRange[1],
          afterBuildTicks: s => { s.ticks = yTicks.map(v => ({ value: v })); },
          afterFit: s => { s.width = padL; },
          border: { display: false },
          grid: {
            color: c => yLabelled.includes(c.tick.value) ? '#EBEBEB' : '#F4F4F4',
            lineWidth: c => yLabelled.includes(c.tick.value) ? 1.2 : 0.7,
            drawTicks: showY, tickLength: 6,
            tickColor: c => yLabelled.includes(c.tick.value) ? '#333333' : 'rgba(0,0,0,0)'
          },
          ticks: {
            display: showY, autoSkip: false, padding: 3,
            color: '#4D4D4D', font: { family: fontFam, size: 16.5 },
            callback: v => yLabelled.includes(v) ? String(v) : ''
          }
        }
      }
    },
    plugins: [decor]
  });
});

// axis titles
addDiv('title', 'log2FoldChange', { left: '531px', top: '981px', transform: 'translate(-50%, -50%)' });
addDiv('title', '-log10(padj)', { left: '22px', top: '506px', transform: 'translate(-50%, -50%) rotate(-90deg)' });

// legend
addDiv('title', 'DEGs', { left: '1030px', top: '444px' });
degNames.forEach((n, i) => {
  const cy = 490 + i * 32;
  addDiv('key', '', { left: '1039px', top: (cy - 7) + 'px', background: degColors[i] });
  addDiv('keytxt', n, { left: '1073px', top: (cy - 8) + 'px' });
});

// watermark over the whole figure
addDiv('', 'ACCEPTED MANUSCRIPT', {}).id = 'mark';
</script>
</body>
</html>
